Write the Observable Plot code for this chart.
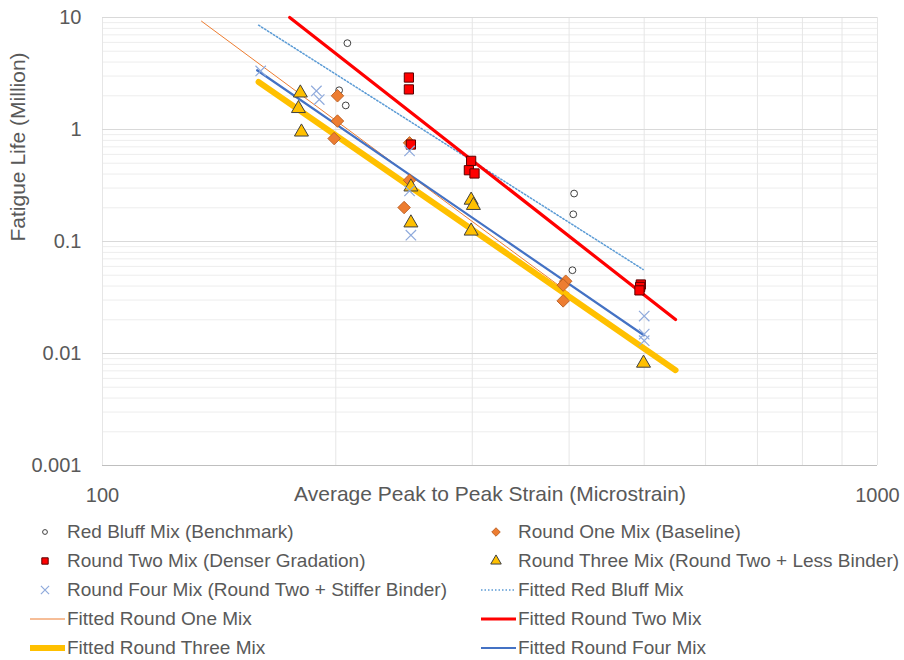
<!DOCTYPE html>
<html><head><meta charset="utf-8">
<script src="https://cdn.jsdelivr.net/npm/d3@7"></script>
<script src="https://cdn.jsdelivr.net/npm/@observablehq/plot@0.6"></script>
<style>
body{margin:0;background:#fff;font-family:"Liberation Sans",Arial,sans-serif;}
#legend{display:grid;grid-template-columns:451px 453px;grid-auto-rows:29px;padding-top:5px;}
.item{display:flex;align-items:center;padding-left:28px;font-size:19px;color:#595959;white-space:nowrap;}
.item svg{flex:none;width:39px;height:20px;}
</style></head><body>
<div id="chart"></div><div id="legend"></div>
<script>
// ---- data ----
const redBluffX = [207, 202, 206, 406, 405, 404];
const redBluffY = [5.9, 2.24, 1.64, 0.268, 0.175, 0.0554];

const roundOneX = [201, 201, 199, 249, 249, 245, 396, 393, 393];
const roundOneY = [2.0, 1.19, 0.83, 0.76, 0.352, 0.201, 0.0442, 0.0408, 0.0295];

const roundTwoX = [248.5, 248.5, 250, 299, 297, 302, 495, 494, 493];
const roundTwoY = [2.91, 2.28, 0.734, 0.525, 0.433, 0.405, 0.0413, 0.0393, 0.0366];

const roundThreeX = [180, 179, 180.6, 250, 250, 299, 301, 299, 499];
const roundThreeY = [2.12, 1.54, 0.95, 0.307, 0.1466, 0.234, 0.21, 0.124, 0.0082];

const roundFourX = [160, 188.8, 190.4, 249, 249, 250, 500, 500, 500];
const roundFourY = [3.33, 2.21, 1.85, 0.644, 0.283, 0.1138, 0.0216, 0.0149, 0.0130];

const fitRedBluffX = [159, 498.5];   const fitRedBluffY = [8.54, 0.0562];
const fitRoundOneX = [134.2, 400];   const fitRoundOneY = [9.27, 0.0346];
const fitRoundTwoX = [174.4, 548.8]; const fitRoundTwoY = [10, 0.0201];
const fitRoundThreeX = [159, 548.8]; const fitRoundThreeY = [2.66, 0.0071];
const fitRoundFourX = [158.3, 499.5]; const fitRoundFourY = [3.38, 0.01456];

const xTickLabels = [100, 1000];
const yTickLabels = [0.001, 0.01, 0.1, 1, 10];
const xGrid = [100, 200, 300, 400, 500, 600, 700, 800, 900, 1000];
const yMinor = [0.001, 0.01, 0.1, 1].flatMap(d => [2,3,4,5,6,7,8,9].map(k => +(d * k).toPrecision(3)));

const xTitle = "Average Peak to Peak Strain (Microstrain)";
const yTitle = "Fatigue Life (Million)";

const seriesNames = [
  "Red Bluff Mix (Benchmark)", "Round One Mix (Baseline)",
  "Round Two Mix (Denser Gradation)", "Round Three Mix (Round Two + Less Binder)",
  "Round Four Mix (Round Two + Stiffer Binder)", "Fitted Red Bluff Mix",
  "Fitted Round One Mix", "Fitted Round Two Mix",
  "Fitted Round Three Mix", "Fitted Round Four Mix"
];

// ---- build tables ----
const tbl = (xs, ys) => xs.map((x, i) => ({x, y: ys[i]}));

const lineStyles = [
  {data: tbl(fitRedBluffX, fitRedBluffY), stroke: "#5B9BD5", strokeWidth: 1.5, strokeDasharray: "1.5,2"},
  {data: tbl(fitRoundOneX, fitRoundOneY), stroke: "#ED7D31", strokeWidth: 1, strokeDasharray: null},
  {data: tbl(fitRoundTwoX, fitRoundTwoY), stroke: "#FF0000", strokeWidth: 3.2, strokeDasharray: null},
  {data: tbl(fitRoundThreeX, fitRoundThreeY), stroke: "#FFC000", strokeWidth: 6, strokeDasharray: null},
  {data: tbl(fitRoundFourX, fitRoundFourY), stroke: "#4472C4", strokeWidth: 2.2, strokeDasharray: null}
];

const dotStyles = [
  {data: tbl(redBluffX, redBluffY), symbol: "circle", rotate: 0, r: 3.4, fill: "white", stroke: "#404040", strokeWidth: 1},
  {data: tbl(roundOneX, roundOneY), symbol: "square", rotate: 45, r: 5, fill: "#ED7D31", stroke: "#B55A1E", strokeWidth: 0.8},
  {data: tbl(roundTwoX, roundTwoY), symbol: "square", rotate: 0, r: 5.2, fill: "#FF0000", stroke: "#5a0000", strokeWidth: 1},
  {data: tbl(roundThreeX, roundThreeY), symbol: "triangle", rotate: 0, r: 5.2, fill: "#FFC000", stroke: "#404040", strokeWidth: 1},
  {data: tbl(roundFourX, roundFourY), symbol: "times", rotate: 0, r: 4.8, fill: "none", stroke: "#8FAADC", strokeWidth: 1.2}
];

const chart = Plot.plot({
  width: 904, height: 512,
  marginTop: 17, marginLeft: 102, marginRight: 27, marginBottom: 47,
  style: {fontFamily: "'Liberation Sans', Arial, sans-serif", color: "#595959", background: "#fff"},
  x: {type: "log", domain: [100, 1000]},
  y: {type: "log", domain: [0.001, 10]},
  marks: [
    Plot.ruleY(yMinor, {stroke: "#ededed"}),
    Plot.ruleX(xGrid, {stroke: "#e6e6e6"}),
    Plot.ruleY(yTickLabels, {stroke: "#d9d9d9"}),
    Plot.ruleY([0.001], {stroke: "#bfbfbf"}),
    Plot.axisY(yTickLabels, {tickSize: 0, tickPadding: 21, fontSize: 20, tickFormat: d => String(d), label: null}),
    Plot.axisX(xTickLabels, {tickSize: 0, tickPadding: 22, fontSize: 20, tickFormat: d => String(d), label: null}),
    Plot.text([xTitle], {frameAnchor: "bottom", dy: 29, fontSize: 21, lineAnchor: "middle", fill: "#595959"}),
    Plot.text([yTitle], {frameAnchor: "left", dx: -84, rotate: -90, fontSize: 21, lineAnchor: "middle", fill: "#595959"}),
    ...lineStyles.map(s => Plot.line(s.data, {x: "x", y: "y", stroke: s.stroke, strokeWidth: s.strokeWidth, strokeDasharray: s.strokeDasharray})),
    ...dotStyles.map(s => Plot.dot(s.data, {x: "x", y: "y", symbol: s.symbol, rotate: s.rotate, r: s.r, fill: s.fill, stroke: s.stroke, strokeWidth: s.strokeWidth}))
  ]
});
document.getElementById("chart").appendChild(chart);

// ---- legend ----
const symMap = {circle: d3.symbolCircle, square: d3.symbolSquare, triangle: d3.symbolTriangle, times: d3.symbolTimes};
const legendMarkerR = [2.4, 3.4, 3.6, 3.9, 3.8];
const legendItems = [
  {kind: "dot", s: dotStyles[0], r: legendMarkerR[0]},
  {kind: "dot", s: dotStyles[1], r: legendMarkerR[1]},
  {kind: "dot", s: dotStyles[2], r: legendMarkerR[2]},
  {kind: "dot", s: dotStyles[3], r: legendMarkerR[3]},
  {kind: "dot", s: dotStyles[4], r: legendMarkerR[4]},
  {kind: "line", s: lineStyles[0]},
  {kind: "line", s: lineStyles[1]},
  {kind: "line", s: lineStyles[2]},
  {kind: "line", s: lineStyles[3]},
  {kind: "line", s: lineStyles[4]}
];
const legend = d3.select("#legend");
legendItems.forEach((it, i) => {
  const div = legend.append("div").attr("class", "item");
  const svg = div.append("svg").attr("viewBox", "0 0 39 20");
  if (it.kind === "dot") {
    svg.append("path")
      .attr("transform", `translate(17,10) rotate(${it.s.rotate})`)
      .attr("d", d3.symbol(symMap[it.s.symbol], Math.PI * it.r * it.r)())
      .attr("fill", it.s.fill).attr("stroke", it.s.stroke).attr("stroke-width", it.s.strokeWidth);
  } else {
    svg.append("line").attr("x1", 2).attr("x2", 37).attr("y1", 10).attr("y2", 10)
      .attr("stroke", it.s.stroke).attr("stroke-width", it.s.strokeWidth)
      .attr("stroke-dasharray", it.s.strokeDasharray);
  }
  div.append("span").text(seriesNames[i]);
});
</script>
</body></html>
